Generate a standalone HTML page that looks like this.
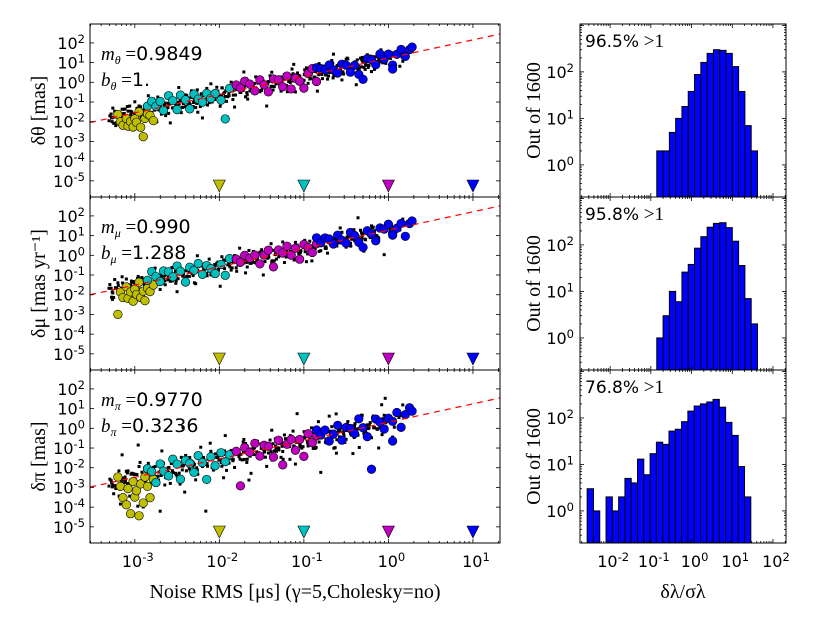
<!DOCTYPE html>
<html><head><meta charset="utf-8">
<style>
body{margin:0;background:#fff;}
svg{display:block;font-family:"DejaVu Sans","Liberation Sans",sans-serif;}
.serif{font-family:"Liberation Serif","DejaVu Serif",serif;}
</style></head>
<body>
<svg id="fig" width="817" height="617" viewBox="0 0 817 617" xmlns="http://www.w3.org/2000/svg"></svg>
<script>
// ---------- data (log10 values) ----------
const yellowX=[-3.2,-3.17,-3.14,-3.1,-3.08,-3.05,-3.02,-3.0,-2.98,-2.95,-2.93,-2.9,-2.88,-2.85,-2.82,-2.78];
const cyanX=[-2.85,-2.8,-2.75,-2.7,-2.66,-2.6,-2.55,-2.5,-2.46,-2.4,-2.35,-2.3,-2.25,-2.2,-2.15,-2.1,-2.05,-1.98,-1.93,-1.88];
const magentaX=[-1.8,-1.75,-1.7,-1.64,-1.58,-1.52,-1.47,-1.42,-1.36,-1.3,-1.25,-1.2,-1.15,-1.1,-1.05,-1.0,-0.95,-0.9,-0.85,-0.8];
const blueX=[-0.85,-0.8,-0.75,-0.7,-0.65,-0.6,-0.55,-0.5,-0.45,-0.4,-0.35,-0.3,-0.25,-0.2,-0.15,-0.1,-0.05,0.0,0.05,0.1,0.15,0.2,0.25,0.28,0.05];
const blackX=[-3.28,-3.25,-3.2,-3.17,-3.13,-3.1,-3.06,-3.02,-2.98,-2.95,-2.9,-2.86,-2.82,-2.78,-2.74,-2.7,-2.66,-2.62,-2.58,-2.53,-2.5,-2.45,-2.41,-2.37,-2.33,-2.28,-2.24,-2.2,-2.16,-2.12,-2.07,-2.03,-1.99,-1.95,-1.9,-1.86,-1.82,-1.78,-1.73,-1.69,-1.65,-1.61,-1.57,-1.52,-1.48,-1.44,-1.4,-1.35,-1.31,-1.27,-1.23,-1.18,-1.14,-1.1,-1.06,-1.01,-0.97,-0.93,-0.89,-0.84,-0.8,-0.76,-0.72,-0.67,-0.63,-0.59,-0.55,-0.5,-0.46,-0.42,-0.38,-0.33,-0.29,-0.25,-0.2,-0.15,-0.1,-0.05,0.05,0.15];

const yellowResTop=[0.1,-0.3,-0.5,-0.2,-0.6,-0.4,-0.7,-0.3,-0.5,0.0,-0.8,-1.3,-0.4,-0.2,-0.3,-0.6];
const cyanResTop=[0.2,0.4,0.1,0.3,-0.2,0.5,0.2,-0.3,0.4,0.1,-0.4,0.3,0.0,-0.2,0.2,-0.1,0.1,-0.3,-1.3,0.2];
const magentaResTop=[0.3,0.1,0.4,0.2,-0.2,0.3,0.0,-0.4,0.2,0.1,-0.3,0.2,-0.5,0.0,-0.2,-0.6,0.1,0.3,-0.4,0.2];
const blueResTop=[0.3,0.2,0.1,0.3,0.0,-0.2,0.2,0.1,-0.3,0.0,-0.5,-0.8,0.2,0.1,-0.2,0.3,0.0,0.2,-0.4,0.1,0.3,-0.1,0.2,0.3,-0.6];
const blackResTop=[0.2,-0.3,0.1,-0.5,0.3,-0.1,0.4,-0.6,0.0,0.3,-0.4,0.2,-0.2,0.5,-0.7,0.1,-0.3,0.4,-0.9,0.2,0.0,-0.5,0.3,-0.2,0.5,-0.4,0.1,-1.0,0.3,-0.3,0.2,0.4,-0.6,0.0,-0.2,0.5,-0.8,0.1,0.3,-0.4,0.2,-0.1,0.5,-0.3,0.0,-1.1,0.4,-0.2,0.2,-0.5,0.3,-0.1,0.5,-0.7,0.1,-0.3,0.4,-0.2,0.2,-0.9,0.0,0.3,-0.4,0.5,-0.1,0.2,-0.6,0.4,-0.3,0.1,-1.0,0.3,-0.2,0.4,-0.5,0.2,-0.1,0.3,-0.4,0.1];

const yellowResMid=[-1.3,-0.2,-0.5,0.0,-0.6,-0.3,-0.8,-0.2,-0.5,0.1,-0.7,-0.4,-0.9,-0.3,-0.5,-0.2];
const cyanResMid=[0.1,0.5,0.2,-0.1,0.4,0.3,0.0,0.5,0.2,-0.4,0.3,0.1,0.4,-0.2,0.2,0.0,-0.3,0.1,-0.5,0.3];
const magentaResMid=[0.2,0.0,0.3,0.1,0.2,-0.3,0.1,0.3,-0.6,0.2,0.0,0.3,-0.2,0.1,-0.5,0.2,0.0,-0.3,0.1,0.2];
const blueResMid=[0.4,0.1,0.3,0.2,-0.1,0.3,0.0,-0.2,0.3,0.1,-0.3,-0.6,0.2,0.0,-0.4,0.2,0.1,0.3,-0.2,0.0,0.2,-0.5,0.1,0.2,-0.3];
const blackResMid=[0.1,-0.4,0.3,-0.2,0.0,0.4,-0.5,0.2,-0.1,0.3,-0.7,0.1,0.4,-0.3,0.2,-0.5,0.0,0.3,-0.2,0.5,-0.8,0.1,-0.3,0.4,0.0,-0.6,0.3,-0.2,0.1,0.5,-0.4,0.2,-1.0,0.3,0.0,-0.3,0.4,-0.1,0.2,-0.6,0.5,0.0,-0.2,0.3,-0.9,0.1,0.4,-0.3,0.2,0.0,-0.5,0.3,-0.1,0.4,-0.2,0.1,-0.7,0.3,0.0,0.4,-0.3,0.2,-0.5,0.1,0.3,-0.1,0.4,-0.4,0.2,0.0,-0.2,0.3,-0.8,0.1,0.4,-0.3,0.2,-1.2,0.0,0.3];

const yellowResBot=[0.2,-0.3,-0.9,-1.3,-0.5,-1.8,-0.2,-1.0,-0.7,-2.0,-0.4,-1.4,-0.1,-0.6,-1.2,-0.3];
const cyanResBot=[0.3,0.1,-0.5,0.4,0.0,-0.3,0.5,0.2,-0.6,0.3,0.1,-0.4,0.4,0.0,-0.9,0.2,-0.3,0.3,-0.2,0.1];
const magentaResBot=[0.2,-1.6,0.3,0.0,0.4,-0.3,0.2,0.1,-0.5,0.3,-1.0,0.0,0.2,-0.4,0.1,-0.8,0.3,-0.2,0.1,0.2];
const blueResBot=[0.4,0.1,0.3,-0.3,0.0,0.4,-0.4,0.2,0.1,-0.2,0.5,0.0,-0.5,-2.2,0.3,0.1,-0.3,0.2,0.0,0.4,-0.4,0.2,0.5,0.3,-1.0];
const blackResBot=[0.1,-0.6,0.3,-1.2,0.0,0.4,-0.9,0.2,-0.3,0.5,-1.6,0.1,-0.5,0.3,-0.2,-2.0,0.4,0.0,-0.7,0.3,-0.4,0.5,-1.3,0.1,0.2,-0.8,0.4,-0.2,-2.5,0.3,-0.5,0.1,0.4,-1.0,0.0,0.3,-0.6,0.2,-0.3,0.5,-1.4,0.1,0.3,-0.4,0.0,-0.9,0.4,-0.2,0.2,-0.6,0.5,-0.1,0.3,-1.1,0.1,-0.3,0.4,0.0,-0.5,0.2,-1.8,0.3,-0.2,0.4,-0.7,0.1,0.3,-0.4,0.2,-1.2,0.0,0.4,-0.3,0.1,-0.6,0.3,-0.2,0.4,-0.8,0.2];

const lineIntercepts=[1.23,1.28,0.31];
const lineSlopes=[0.926,0.93,0.932];
const fitLabelsM=["0.9849","0.990","0.9770"];
const fitLabelsB=["1.","1.288","0.3236"];
const markerX=[-2,-1,0,1];
const markerColors=["#bfbf00","#00bfbf","#bf00bf","#0000ff"];

const histStartLog=[-0.854,-0.854,-2.564];
const histBinWidth=0.1546;
const histCountsTop=[2,2,5,10,18,38,88,160,250,300,290,250,130,38,7,2];
const histCountsMid=[1,3,10,6,26,38,85,150,240,290,300,235,120,36,7,2];
const histCountsBot=[3,1,0,2,1,2,5,4,13,6,17,30,27,52,57,83,140,180,200,220,250,170,80,42,9,2];
const histPercents=["96.5%","95.8%","76.8%"];

const xTickExps=[-3,-2,-1,0,1];
const yTickExps=[2,1,0,-1,-2,-3,-4,-5];
const hxTickExps=[-2,-1,0,1,2];
const hyTickExps=[0,1,2];

// ---------- layout ----------
const NS="http://www.w3.org/2000/svg";
const svg=document.getElementById('fig');
const L={x0:90,x1:500,xmin:-3.53,xmax:1.32,ymin:-5.82,ymax:2.96};
const H={x0:580,x1:786,xmin:-2.74,xmax:2.32,ymin:-0.69,ymax:3.03};
const panelTops=[24,197,370];
const PH=173;
function el(tag,attrs,parent){const e=document.createElementNS(NS,tag);for(const k in attrs)e.setAttribute(k,attrs[k]);(parent||svg).appendChild(e);return e;}
function sx(v){return L.x0+(v-L.xmin)/(L.xmax-L.xmin)*(L.x1-L.x0);}
function sy(v,top){return top+PH-(v-L.ymin)/(L.ymax-L.ymin)*PH;}
function hx(v){return H.x0+(v-H.xmin)/(H.xmax-H.xmin)*(H.x1-H.x0);}
function hy(v,top){return top+PH-(v-H.ymin)/(H.ymax-H.ymin)*PH;}
function supText(g,x,y,exp,anchor,size){
  const t=el('text',{x:x,y:y,'text-anchor':anchor,'font-size':size,fill:'#000'},g);
  const a=document.createElementNS(NS,'tspan');a.textContent='10';t.appendChild(a);
  const b=document.createElementNS(NS,'tspan');b.setAttribute('dy',-6);b.setAttribute('font-size',size*0.72);b.textContent=String(exp);t.appendChild(b);
  return t;
}

const groupsX=[yellowX,cyanX,magentaX,blueX];
const groupsRes=[[yellowResTop,cyanResTop,magentaResTop,blueResTop],[yellowResMid,cyanResMid,magentaResMid,blueResMid],[yellowResBot,cyanResBot,magentaResBot,blueResBot]];
const blackRes=[blackResTop,blackResMid,blackResBot];
const panelNames=['theta','mu','pi'];
const histCounts=[histCountsTop,histCountsMid,histCountsBot];
// realisations per star: x offset (dex), residual source shift, residual scale
const realShift=[0,7,19,31,43];
const realScale=[1,-0.8,0.6,-0.5,0.4];
const realDx=[0,0.02,-0.015,0.012,-0.025];

panelTops.forEach((top,p)=>{
  const g=el('g',{});
  
  
  const clipId='clip'+p;
  const cp=el('clipPath',{id:clipId},g);el('rect',{x:L.x0,y:top,width:L.x1-L.x0,height:PH},cp);
  const inner=el('g',{'clip-path':'url(#'+clipId+')'},g);
  const bg=el('g',{},inner);
  
  
  const br=blackRes[p];
  for(let i=0;i<Math.min(blackX.length,br.length);i++){
    for(let k=0;k<realShift.length;k++){
      const xv=blackX[i]+realDx[k];
      const yv=lineIntercepts[p]+lineSlopes[p]*xv+br[(i+realShift[k])%br.length]*realScale[k];
      const r=el('rect',{x:sx(xv)-1.5,y:sy(yv,top)-1.5,width:3,height:3,fill:'#000'},bg);
      
      
    }
  }
  groupsX.forEach((xs,c)=>{
    const cg=el('g',{},inner);
    
    
    const rs=groupsRes[p][c];
    for(let i=0;i<Math.min(xs.length,rs.length);i++){
      const yv=lineIntercepts[p]+lineSlopes[p]*xs[i]+rs[i];
      const ci=el('circle',{cx:sx(xs[i]),cy:sy(yv,top),r:4.3,fill:markerColors[c],stroke:'#000','stroke-width':0.6},cg);
      
      
    }
  });
  const ln=el('line',{x1:sx(L.xmin),y1:sy(lineIntercepts[p]+lineSlopes[p]*L.xmin,top),x2:sx(L.xmax),y2:sy(lineIntercepts[p]+lineSlopes[p]*L.xmax,top),stroke:'#ff0000','stroke-width':1.2,'stroke-dasharray':'6,5'},inner);
  
  
  markerX.forEach((mx,c)=>{
    const cx=sx(mx),yb=top+PH-5;
    const tr=el('polygon',{points:`${cx-6},${yb-12} ${cx+6},${yb-12} ${cx},${yb}`,fill:markerColors[c],stroke:'#000','stroke-width':0.6},g);
    
    
  });
  el('rect',{x:L.x0,y:top,width:L.x1-L.x0,height:PH,fill:'none',stroke:'#000','stroke-width':1},g);
  for(let d=-4;d<=1;d++){for(let k=1;k<10;k++){const v=d+Math.log10(k);if(v<L.xmin||v>L.xmax)continue;const x=sx(v);const len=k==1?4:2;
    el('line',{x1:x,y1:top+PH,x2:x,y2:top+PH-len,stroke:'#000','stroke-width':0.8},g);
    el('line',{x1:x,y1:top,x2:x,y2:top+len,stroke:'#000','stroke-width':0.8},g);}}
  yTickExps.forEach(e=>{const y=sy(e,top);
    el('line',{x1:L.x0,y1:y,x2:L.x0+4,y2:y,stroke:'#000','stroke-width':0.8},g);
    el('line',{x1:L.x1,y1:y,x2:L.x1-4,y2:y,stroke:'#000','stroke-width':0.8},g);
    const t=supText(g,L.x0-5,y+6,e,'end',16);
    
    
  });
  const sym=['θ','μ','π'][p];
  const a1=el('text',{x:101,y:top+36,'font-size':19,fill:'#000'},g);
  a1.innerHTML='<tspan class="serif" font-style="italic">m</tspan><tspan class="serif" font-style="italic" font-size="12" dy="4">'+sym+'</tspan><tspan class="serif" dy="-4"> =</tspan><tspan>'+fitLabelsM[p]+'</tspan>';
  
  
  const a2=el('text',{x:101,y:top+62,'font-size':19,fill:'#000'},g);
  a2.innerHTML='<tspan class="serif" font-style="italic">b</tspan><tspan class="serif" font-style="italic" font-size="12" dy="4">'+sym+'</tspan><tspan class="serif" dy="-4"> =</tspan><tspan>'+fitLabelsB[p]+'</tspan>';
  
  
  const titles=['δθ [mas]','δμ [mas yr⁻¹]','δπ [mas]'];
  const yt=el('text',{x:0,y:0,'font-size':20,'text-anchor':'middle',class:'serif',transform:`translate(45,${top+PH/2}) rotate(-90)`},g);
  yt.textContent=titles[p];
  
  

  const hg=el('g',{});
  
  
  const counts=histCounts[p];
  counts.forEach((c,i)=>{
    if(c<=0)return;
    const xa=hx(histStartLog[p]+i*histBinWidth),xb=hx(histStartLog[p]+(i+1)*histBinWidth);
    const yt2=hy(Math.log10(c),top);
    const b=el('rect',{x:xa,y:yt2,width:xb-xa,height:top+PH-yt2,fill:'#0000ff',stroke:'#000','stroke-width':1},hg);
    
    
  });
  el('rect',{x:H.x0,y:top,width:H.x1-H.x0,height:PH,fill:'none',stroke:'#000','stroke-width':1},hg);
  for(let d=-3;d<=2;d++){for(let k=1;k<10;k++){const v=d+Math.log10(k);if(v<H.xmin||v>H.xmax)continue;const x=hx(v);const len=k==1?4:2;
    el('line',{x1:x,y1:top+PH,x2:x,y2:top+PH-len,stroke:'#000','stroke-width':0.8},hg);
    el('line',{x1:x,y1:top,x2:x,y2:top+len,stroke:'#000','stroke-width':0.8},hg);}}
  for(let d=-1;d<=3;d++){for(let k=1;k<10;k++){const v=d+Math.log10(k);if(v<H.ymin||v>H.ymax)continue;const y=hy(v,top);const len=k==1?4:2;
    el('line',{x1:H.x0,y1:y,x2:H.x0+len,y2:y,stroke:'#000','stroke-width':0.8},hg);
    el('line',{x1:H.x1,y1:y,x2:H.x1-len,y2:y,stroke:'#000','stroke-width':0.8},hg);}}
  hyTickExps.forEach(e=>{const t=supText(hg,H.x0-6,hy(e,top)+6,e,'end',16);
    
    });
  const pt=el('text',{x:585,y:top+23,'font-size':17,fill:'#000'},hg);
  pt.innerHTML=histPercents[p]+'<tspan class="serif" font-size="19"> &gt;1</tspan>';
  
  
  const ht=el('text',{x:0,y:0,'font-size':20,'text-anchor':'middle',class:'serif',transform:`translate(540,${top+PH/2}) rotate(-90)`},hg);
  ht.textContent='Out of 1600';
  
  
});

const bot=panelTops[2]+PH;
xTickExps.forEach(e=>{const t=supText(svg,sx(e)+3,bot+24,e,'middle',16);
  
  });
hxTickExps.forEach(e=>{const t=supText(svg,hx(e)+3,bot+24,e,'middle',16);
  
  });
const xt=el('text',{x:295,y:598,'font-size':20,'text-anchor':'middle',class:'serif'});
xt.textContent='Noise RMS [μs] (γ=5,Cholesky=no)';


const hxt=el('text',{x:683,y:598,'font-size':20,'text-anchor':'middle',class:'serif'});
hxt.textContent='δλ/σλ';


</script>
</body></html>
